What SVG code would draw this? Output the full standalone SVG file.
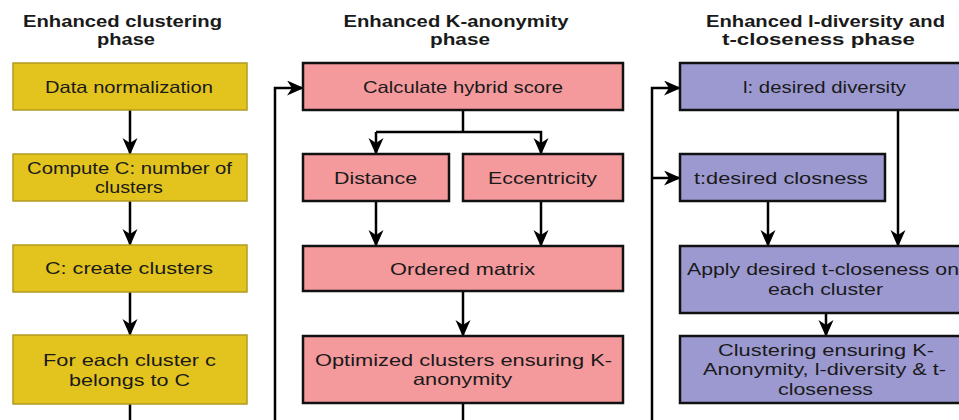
<svg xmlns="http://www.w3.org/2000/svg" width="959" height="420" viewBox="0 0 959 420">
<style>
  .hdr { font-family: "Liberation Sans", Arial, sans-serif; font-weight: bold; font-size: 16.5px; fill: #1a1a1a; text-anchor: middle; }
  .txt { font-family: "Liberation Sans", Arial, sans-serif; font-size: 16.5px; fill: #1a1a1a; text-anchor: middle; }
  .y { fill: #E3C41E; stroke: #B39A22; stroke-width: 1.5; }
  .p { fill: #F4999C; stroke: #111; stroke-width: 2.5; }
  .v { fill: #9C99D1; stroke: #111; stroke-width: 2.5; }
  .ln { fill: none; stroke: #000; stroke-width: 2.5; }
  .arr { marker-end: url(#ah); }
</style>
<defs>
  <marker id="ah" markerUnits="userSpaceOnUse" markerWidth="18" markerHeight="16" refX="16" refY="7.5" orient="auto">
    <path d="M0,0 L17,7.5 L0,15 L5,7.5 Z" fill="#000"/>
  </marker>
</defs>
<rect width="959" height="420" fill="#fff"/>

<g id="headers">
  <text class="hdr" x="122.5" y="27" textLength="199" lengthAdjust="spacingAndGlyphs">Enhanced clustering</text>
  <text class="hdr" x="126" y="45" textLength="58" lengthAdjust="spacingAndGlyphs">phase</text>
  <text class="hdr" x="456" y="27" textLength="225" lengthAdjust="spacingAndGlyphs">Enhanced K-anonymity</text>
  <text class="hdr" x="460" y="45" textLength="60" lengthAdjust="spacingAndGlyphs">phase</text>
  <text class="hdr" x="825.5" y="27" textLength="239" lengthAdjust="spacingAndGlyphs">Enhanced l-diversity and</text>
  <text class="hdr" x="818.5" y="45" textLength="193" lengthAdjust="spacingAndGlyphs">t-closeness phase</text>
</g>

<g id="connectors">
  <path class="ln arr" d="M130,110 L130,154"/>
  <path class="ln arr" d="M130,201 L130,245"/>
  <path class="ln arr" d="M130,292 L130,335"/>
  <path class="ln" d="M130,404 L130,422"/>
  <path class="ln arr" d="M275,422 L275,88 L303,88"/>
  <path class="ln" d="M463,110 L463,132"/>
  <path class="ln arr" d="M376,132 L376,154"/>
  <path class="ln arr" d="M376,132 L541,132 L541,154"/>
  <path class="ln arr" d="M376,201 L376,246"/>
  <path class="ln arr" d="M541,201 L541,246"/>
  <path class="ln arr" d="M463,291 L463,336"/>
  <path class="ln" d="M463,403 L463,422"/>
  <path class="ln arr" d="M652,422 L652,88 L680,88"/>
  <path class="ln arr" d="M652,178 L680,178"/>
  <path class="ln arr" d="M898,110 L898,246"/>
  <path class="ln arr" d="M768,201 L768,246"/>
  <path class="ln arr" d="M826,313 L826,336"/>
</g>

<g id="n-datanorm">
  <rect class="y" x="13" y="63" width="234" height="47"/>
  <text class="txt" x="129" y="93" textLength="168" lengthAdjust="spacingAndGlyphs">Data normalization</text>
</g>
<g id="n-computec">
  <rect class="y" x="13" y="154" width="234" height="47"/>
  <text class="txt" x="129.5" y="174" textLength="205" lengthAdjust="spacingAndGlyphs">Compute C: number of</text>
  <text class="txt" x="129" y="193" textLength="68" lengthAdjust="spacingAndGlyphs">clusters</text>
</g>
<g id="n-create">
  <rect class="y" x="13" y="245" width="234" height="47"/>
  <text class="txt" x="129" y="274" textLength="168" lengthAdjust="spacingAndGlyphs">C: create clusters</text>
</g>
<g id="n-foreach">
  <rect class="y" x="13" y="335" width="234" height="69"/>
  <text class="txt" x="129.5" y="366" textLength="173" lengthAdjust="spacingAndGlyphs">For each cluster c</text>
  <text class="txt" x="129.5" y="386" textLength="121" lengthAdjust="spacingAndGlyphs">belongs to C</text>
</g>

<g id="n-hybrid">
  <rect class="p" x="303" y="63" width="320" height="47"/>
  <text class="txt" x="463" y="93" textLength="200" lengthAdjust="spacingAndGlyphs">Calculate hybrid score</text>
</g>
<g id="n-distance">
  <rect class="p" x="303" y="154" width="146" height="47"/>
  <text class="txt" x="375.5" y="184" textLength="83" lengthAdjust="spacingAndGlyphs">Distance</text>
</g>
<g id="n-ecc">
  <rect class="p" x="463" y="154" width="160" height="47"/>
  <text class="txt" x="542.5" y="184" textLength="109" lengthAdjust="spacingAndGlyphs">Eccentricity</text>
</g>
<g id="n-ordered">
  <rect class="p" x="303" y="246" width="320" height="45"/>
  <text class="txt" x="462.5" y="275" textLength="145" lengthAdjust="spacingAndGlyphs">Ordered matrix</text>
</g>
<g id="n-optimized">
  <rect class="p" x="303" y="336" width="320" height="67"/>
  <text class="txt" x="463.5" y="366" textLength="297" lengthAdjust="spacingAndGlyphs">Optimized clusters ensuring K-</text>
  <text class="txt" x="462.5" y="385" textLength="99" lengthAdjust="spacingAndGlyphs">anonymity</text>
</g>

<g id="n-ldiv">
  <rect class="v" x="680" y="63" width="288" height="47"/>
  <text class="txt" x="824.5" y="93" textLength="163" lengthAdjust="spacingAndGlyphs">l: desired diversity</text>
</g>
<g id="n-tclos">
  <rect class="v" x="680" y="154" width="205" height="47"/>
  <text class="txt" x="781" y="184" textLength="174" lengthAdjust="spacingAndGlyphs">t:desired closness</text>
</g>
<g id="n-apply">
  <rect class="v" x="680" y="246" width="288" height="67"/>
  <text class="txt" x="823" y="275" textLength="272" lengthAdjust="spacingAndGlyphs">Apply desired t-closeness on</text>
  <text class="txt" x="825.5" y="295" textLength="115" lengthAdjust="spacingAndGlyphs">each cluster</text>
</g>
<g id="n-clustering">
  <rect class="v" x="680" y="336" width="288" height="67"/>
  <text class="txt" x="826" y="356" textLength="216" lengthAdjust="spacingAndGlyphs">Clustering ensuring K-</text>
  <text class="txt" x="824.5" y="375" textLength="243" lengthAdjust="spacingAndGlyphs">Anonymity, l-diversity &amp; t-</text>
  <text class="txt" x="825.5" y="395" textLength="95" lengthAdjust="spacingAndGlyphs">closeness</text>
</g>
</svg>
